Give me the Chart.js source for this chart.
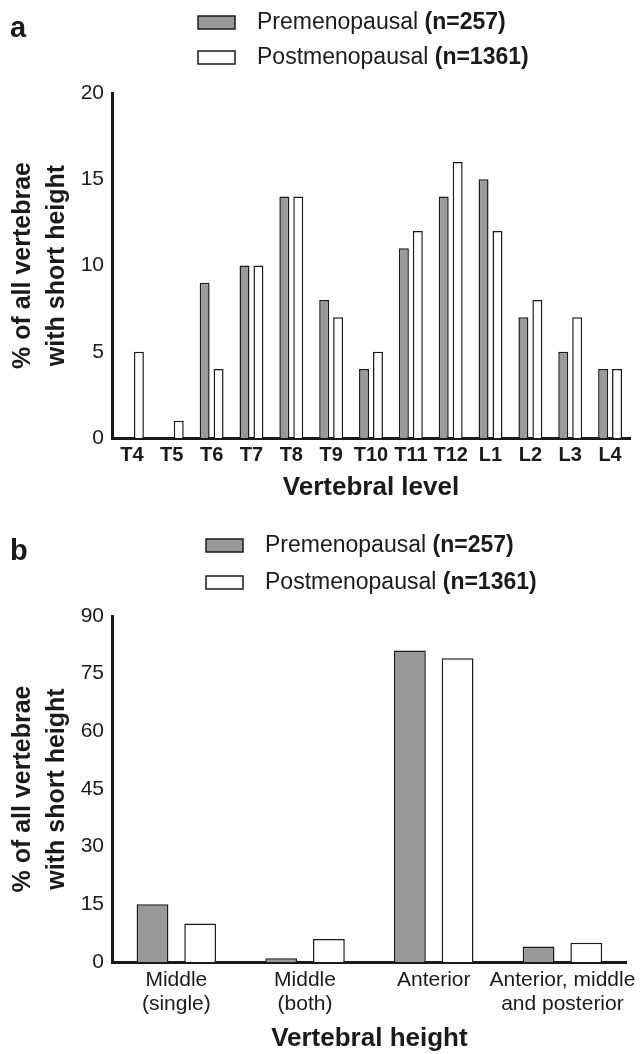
<!DOCTYPE html>
<html>
<head>
<meta charset="utf-8">
<script src="https://cdn.jsdelivr.net/npm/chart.js@4.4.1/dist/chart.umd.min.js"></script>
<style>
  html, body { margin: 0; padding: 0; background: #fff; }
  #wrap { position: relative; width: 643px; height: 1054px; }
  canvas { position: absolute; left: 0; }
</style>
</head>
<body>
<div id="wrap">
  <canvas id="levelChart" width="643" height="520" style="top:0"></canvas>
  <canvas id="heightChart" width="643" height="554" style="top:500px"></canvas>
</div>
<script>
// panel a: vertebral level
const levelLabels = ['T4', 'T5', 'T6', 'T7', 'T8', 'T9', 'T10', 'T11', 'T12', 'L1', 'L2', 'L3', 'L4'];
const preLevel = [0, 0, 9, 10, 14, 8, 4, 11, 14, 15, 7, 5, 4];
const postLevel = [5, 1, 4, 10, 14, 7, 5, 12, 16, 12, 8, 7, 4];
const levelTicks = [0, 5, 10, 15, 20];

// panel b: vertebral height
const heightLabels = [['Middle', '(single)'], ['Middle', '(both)'], ['Anterior'], ['Anterior, middle', 'and posterior']];
const preHeight = [15, 1, 81, 4];
const postHeight = [10, 6, 79, 5];
const heightTicks = [0, 15, 30, 45, 60, 75, 90];

const groupNames = ['Premenopausal', 'Postmenopausal'];
const groupCounts = ['(n=257)', '(n=1361)'];

const FONT = '"Liberation Sans", Arial, Helvetica, sans-serif';
const INK = '#1a1a1a';
const PRE_FILL = '#999999';
const POST_FILL = '#ffffff';

// draws the panel letter and the two-row legend (plain name + bold count)
const panelDecor = {
    id: 'panelDecor',
    afterDraw(chart, args, opts) {
        const ctx = chart.ctx;
        ctx.save();
        ctx.fillStyle = INK;
        ctx.textBaseline = 'alphabetic';
        ctx.font = 'bold 29px ' + FONT;
        ctx.fillText(opts.letter, 10, opts.letterY);

        chart.data.datasets.forEach((ds, i) => {
            const y = opts.legendY + i * opts.rowGap;
            ctx.fillStyle = ds.backgroundColor;
            ctx.fillRect(opts.boxX, y - 13, 37, 13);
            ctx.lineWidth = 1.5;
            ctx.strokeStyle = INK;
            ctx.strokeRect(opts.boxX, y - 13, 37, 13);

            ctx.fillStyle = INK;
            ctx.font = '23px ' + FONT;
            const name = groupNames[i] + ' ';
            ctx.fillText(name, opts.textX, y);
            const w = ctx.measureText(name).width;
            ctx.font = 'bold 23px ' + FONT;
            ctx.fillText(groupCounts[i], opts.textX + w, y);
        });
        ctx.restore();
    }
};

const makeDatasets = (pre, post, catPct, barPct) => [{
    label: groupNames[0],
    data: pre,
    backgroundColor: PRE_FILL,
    borderColor: INK,
    borderWidth: 1.5,
    categoryPercentage: catPct,
    barPercentage: barPct,
}, {
    label: groupNames[1],
    data: post,
    backgroundColor: POST_FILL,
    borderColor: INK,
    borderWidth: 1.5,
    categoryPercentage: catPct,
    barPercentage: barPct,
}];

const generateConfig = ({ labels, pre, post, catPct, barPct, tickVals, xFont, xPad, xHeight,
    xTitle, xTitlePad, top, decor }) => {
    return {
        type: 'bar',
        data: { labels, datasets: makeDatasets(pre, post, catPct, barPct) },
        options: {
            responsive: false,
            animation: false,
            events: [],
            layout: { padding: { top, left: 0, right: 13, bottom: 0 } },
            plugins: {
                legend: { display: false },
                tooltip: { enabled: false },
                panelDecor: decor,
            },
            scales: {
                x: {
                    grid: { display: false, drawTicks: false },
                    border: { display: true, color: INK, width: 3 },
                    ticks: { color: INK, font: xFont, padding: xPad, maxRotation: 0, autoSkip: false },
                    title: {
                        display: true, text: xTitle, color: INK,
                        font: { family: FONT, size: 26, weight: 'bold', lineHeight: 1.2 },
                        padding: { top: 0, bottom: xTitlePad },
                    },
                    afterFit: s => { s.height = xHeight; },
                },
                y: {
                    min: tickVals[0],
                    max: tickVals[tickVals.length - 1],
                    afterBuildTicks: s => { s.ticks = tickVals.map(v => ({ value: v })); },
                    grid: { display: false, drawTicks: false },
                    border: { display: true, color: INK, width: 3 },
                    ticks: { color: INK, font: { family: FONT, size: 21 }, padding: 8 },
                    title: {
                        display: true,
                        text: ['% of all vertebrae', 'with short height'],
                        color: INK,
                        font: { family: FONT, size: 25, weight: 'bold', lineHeight: 1.35 },
                        padding: { top: 6, bottom: 0 },
                    },
                    afterFit: s => { s.width = 112; },
                },
            },
        },
        plugins: [panelDecor],
    };
};

new Chart(document.getElementById('levelChart'), generateConfig({
    labels: levelLabels, pre: preLevel, post: postLevel,
    catPct: 0.7, barPct: 0.714, tickVals: levelTicks,
    xFont: { family: FONT, size: 20, weight: 'bold', lineHeight: 1.2 }, xPad: 5, xHeight: 82,
    xTitle: 'Vertebral level', xTitlePad: 17, top: 93,
    decor: { letter: 'a', letterY: 37, boxX: 198, textX: 257, legendY: 29, rowGap: 35 },
}));

new Chart(document.getElementById('heightChart'), generateConfig({
    labels: heightLabels, pre: preHeight, post: postHeight,
    catPct: 0.741, barPct: 0.667, tickVals: heightTicks,
    xFont: { family: FONT, size: 21, lineHeight: 1.15 }, xPad: 6, xHeight: 92,
    xTitle: 'Vertebral height', xTitlePad: 0, top: 116,
    decor: { letter: 'b', letterY: 60, boxX: 206, textX: 265, legendY: 52, rowGap: 37 },
}));
</script>
</body>
</html>
